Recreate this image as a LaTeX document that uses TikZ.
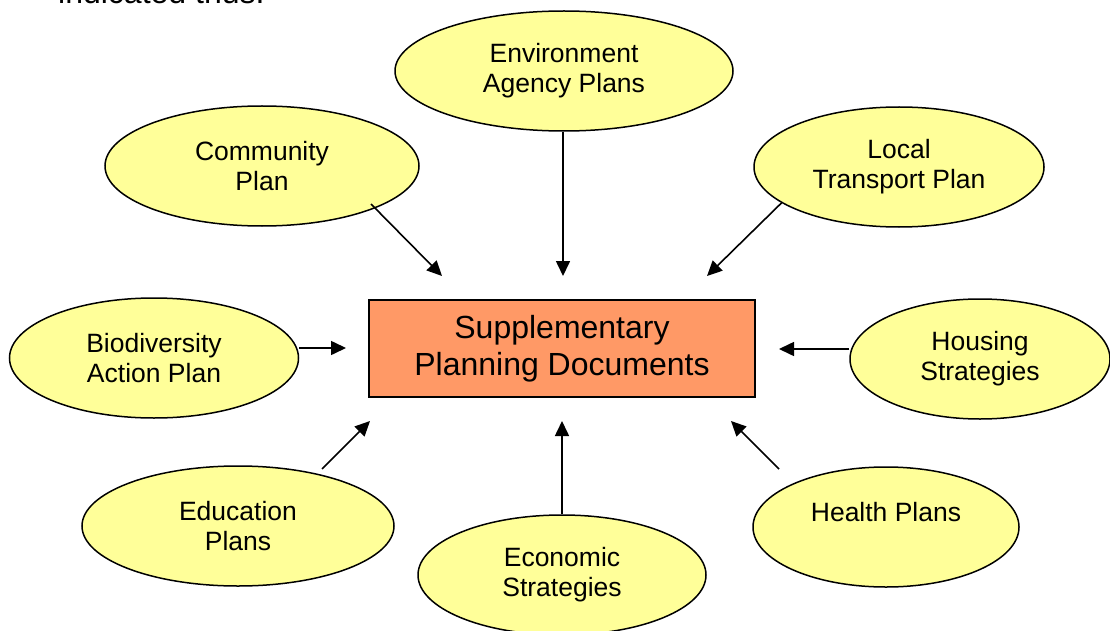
\documentclass[tikz,border=0pt]{standalone}
\usepackage{fontspec}
\setmainfont{Liberation Sans}
\usetikzlibrary{shapes.geometric,arrows.meta}
\definecolor{ellfill}{HTML}{FFFF99}
\definecolor{boxfill}{HTML}{FF9966}
\begin{document}
\begin{tikzpicture}[x=1pt,y=-1pt,
  bubble/.style={ellipse,draw=black,line width=1.5pt,fill=ellfill,inner sep=0pt,
    minimum height=120pt,align=center,font=\fontsize{26.5}{30}\selectfont},
  sbox/.style={rectangle,draw=black,line width=1.5pt,fill=boxfill,inner sep=0pt,
    minimum width=386pt,minimum height=97pt,align=center,font=\fontsize{32}{37}\selectfont},
  arr/.style={line width=1.6pt,-{Triangle[length=15pt,width=14pt]}}]
\useasboundingbox (0,0) rectangle (1110,631);

\node[anchor=base west,inner sep=0pt,font=\fontsize{32}{37}\selectfont] (intro) at (58,3.5) {indicated thus:};

\node[sbox] (spd) at (562,348.5) {Supplementary\\Planning Documents};

\node[bubble,minimum width=338pt] (env)  at (564,71)  {Environment\\Agency Plans};
\node[bubble,minimum width=314pt] (comm) at (262,166) {Community\\Plan};
\node[bubble,minimum width=290pt] (loc)  at (899,167) {Local\\Transport Plan};
\node[bubble,minimum width=289pt] (bio)  at (154,358) {Biodiversity\\Action Plan};
\node[bubble,minimum width=260pt] (hous) at (980,359) {Housing\\Strategies};
\node[bubble,minimum width=312pt] (edu)  at (238,526) {Education\\Plans};
\node[bubble,minimum width=288pt] (econ) at (562,575) {Economic\\Strategies};
\node[bubble,minimum width=266pt] (hlth) at (886,527) {Health Plans\\\mbox{}};

\coordinate (scomm) at (371,204);
\coordinate (tcomm) at (442,276);
\coordinate (tenv)  at (563,276);
\coordinate (tloc)  at (707,276);
\coordinate (tbio)  at (346,348);
\coordinate (thous) at (779,349);
\coordinate (sedu)  at (322,469);
\coordinate (tedu)  at (370,421);
\coordinate (tecon) at (562,421);
\coordinate (shlth) at (779,469);
\coordinate (thlth) at (731,421);

\draw[arr] (scomm) -- (tcomm);
\draw[arr] (env.south -| tenv) -- (tenv);
\draw[arr] (loc.197) -- (tloc);
\draw[arr] (bio.east |- tbio) -- (tbio);
\draw[arr] (hous.west |- thous) -- (thous);
\draw[arr] (sedu) -- (tedu);
\draw[arr] (econ.north) -- (tecon);
\draw[arr] (shlth) -- (thlth);
\end{tikzpicture}
\end{document}
